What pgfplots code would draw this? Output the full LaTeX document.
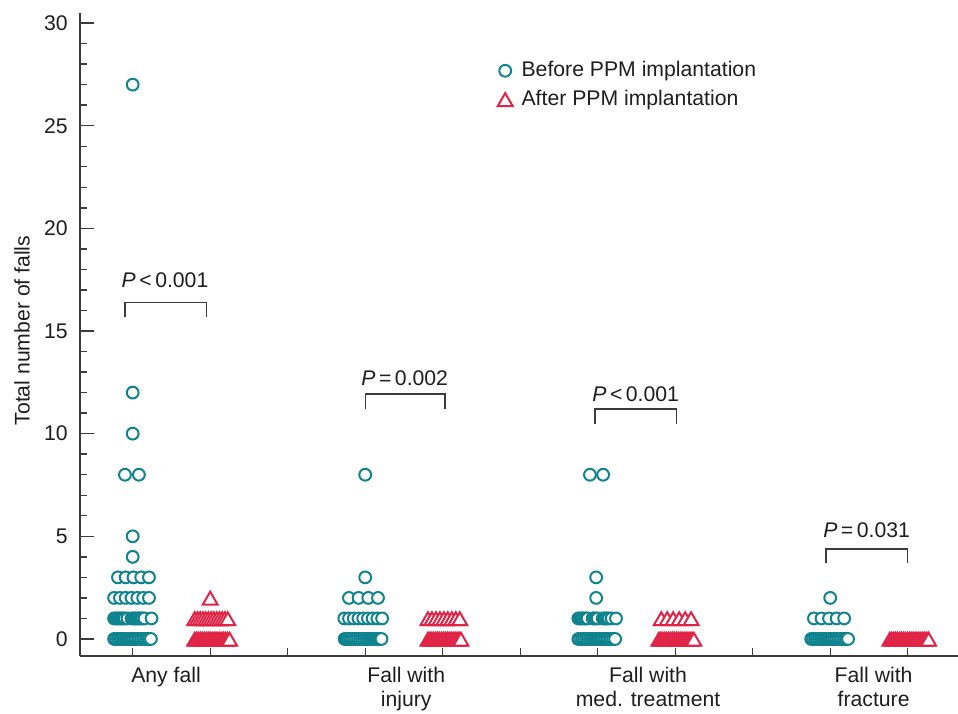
\documentclass[border=0pt]{standalone}
\usepackage{fontspec}
\setmainfont{Liberation Sans}
\usepackage{pgfplots}
\pgfplotsset{compat=1.18}
\definecolor{tealc}{RGB}{16,132,142}
\definecolor{redc}{RGB}{225,36,70}
\definecolor{axgray}{RGB}{60,60,60}
\definecolor{txt}{RGB}{30,30,30}
\begin{document}
\fontsize{10.6}{12.4}\selectfont
\begin{tikzpicture}
\useasboundingbox (-40pt,-28.5pt) rectangle (439pt,328pt);
\begin{axis}[
  scale only axis, width=439pt, height=321.5pt,
  xmin=0.32, xmax=11.649, ymin=-0.83, ymax=30.49,
  clip=false,
  axis x line*=bottom, axis y line*=left,
  axis line style={axgray, line width=0.7pt, -},
  tick align=inside,
  xtick={1,2,3,4,5,6,7,8,9,10,11}, xticklabels={},
  ytick={0,5,10,15,20,25,30}, minor y tick num=4,
  major tick length=7pt, minor tick length=3.5pt,
  tick style={axgray, line width=0.7pt},
  xtick style={/pgfplots/major tick length=4pt},
  extra x ticks={1.43,4.53,7.65,10.56},
  extra x tick labels={Any fall, Fall with\\injury, Fall with\\med. treatment, Fall with\\fracture},
  extra x tick style={major tick length=0pt, tick style={draw=none}},
  xticklabel style={align=center, text=txt, font=\fontsize{10.6}{12}\selectfont, yshift=-2pt},
  yticklabel style={text=txt, xshift=-2.4pt},
  /pgf/number format/assume math mode=true,
  every axis y label/.style={at={(axis description cs:-0.0661,0.5062)}, rotate=90, anchor=center},
  ylabel={Total number of falls},
  ylabel style={text=txt},
  legend style={at={(axis cs:5.68,26.98)}, anchor=west, draw=none, fill=none, inner sep=0pt,
    nodes={inner sep=1.5pt, text=txt}, row sep=2.0pt},
  legend cell align=left,
  legend image code/.code={\draw[#1] plot coordinates {(0pt,0pt)}; \path (-4.5pt,0pt) (6.5pt,0pt);},
]
% Before PPM implantation
\addplot[only marks, mark=*, mark size=2.95pt, mark options={draw=tealc, fill=white, line width=1pt}] coordinates {
(0.760,0) (0.785,0) (0.810,0) (0.835,0) (0.860,0) (0.885,0) (0.910,0) (0.935,0) (0.960,0) (0.985,0)
(1.010,0) (1.035,0) (1.060,0) (1.085,0) (1.110,0) (1.135,0) (1.160,0) (1.185,0) (1.210,0) (1.235,0)
(0.76,1) (0.78,1) (0.80,1) (0.82,1) (0.84,1) (0.86,1) (0.88,1) (0.90,1) (0.933,1) (0.985,1)
(1.005,1) (1.025,1) (1.045,1) (1.065,1) (1.085,1) (1.105,1) (1.125,1) (1.152,1) (1.243,1)
(0.76,2) (0.835,2) (0.91,2) (0.985,2) (1.06,2) (1.135,2) (1.21,2)
(0.81,3) (0.91,3) (1.01,3) (1.11,3) (1.21,3)
(1,4) (1,5) (0.90,8) (1.08,8) (1,10) (1,12) (1,27)
(3.735,0) (3.760,0) (3.785,0) (3.810,0) (3.835,0) (3.860,0) (3.885,0) (3.910,0) (3.935,0) (3.960,0)
(3.985,0) (4.010,0) (4.035,0) (4.060,0) (4.085,0) (4.110,0) (4.135,0) (4.160,0) (4.185,0) (4.210,0)
(3.73,1) (3.791,1) (3.852,1) (3.913,1) (3.974,1) (4.035,1) (4.096,1) (4.157,1) (4.218,1)
(3.79,2) (3.915,2) (4.04,2) (4.165,2)
(4,3) (4,8)
(6.750,0) (6.775,0) (6.800,0) (6.825,0) (6.850,0) (6.875,0) (6.900,0) (6.925,0) (6.950,0) (6.975,0)
(7.000,0) (7.025,0) (7.050,0) (7.075,0) (7.100,0) (7.125,0) (7.150,0) (7.175,0) (7.200,0) (7.225,0)
(6.75,1) (6.77,1) (6.79,1) (6.81,1) (6.83,1) (6.85,1) (6.87,1) (6.935,1) (6.955,1) (6.975,1)
(7.0,1) (7.065,1) (7.085,1) (7.105,1) (7.125,1) (7.145,1) (7.18,1) (7.236,1)
(6.98,2) (6.98,3) (6.90,8) (7.07,8)
(9.755,0) (9.780,0) (9.805,0) (9.830,0) (9.855,0) (9.880,0) (9.905,0) (9.930,0) (9.955,0) (9.980,0)
(10.005,0) (10.030,0) (10.055,0) (10.080,0) (10.105,0) (10.130,0) (10.155,0) (10.180,0) (10.205,0) (10.230,0)
(9.79,1) (9.888,1) (9.985,1) (10.083,1) (10.18,1)
(10,2)
};
\addlegendentry{Before PPM implantation}
% After PPM implantation
\addplot[only marks, mark=triangle*, mark size=4.3pt, mark options={draw=redc, fill=white, line width=1pt, yshift=-1.2pt}] coordinates {
(1.800,0) (1.825,0) (1.850,0) (1.875,0) (1.900,0) (1.925,0) (1.950,0) (1.975,0) (2.000,0) (2.025,0)
(2.050,0) (2.075,0) (2.100,0) (2.125,0) (2.150,0) (2.175,0) (2.200,0) (2.225,0) (2.250,0)
(1.80,1) (1.835,1) (1.871,1) (1.906,1) (1.942,1) (1.977,1) (2.013,1) (2.048,1) (2.084,1) (2.119,1)
(2.155,1) (2.19,1) (2.226,1)
(2,2)
(4.810,0) (4.835,0) (4.860,0) (4.885,0) (4.910,0) (4.935,0) (4.960,0) (4.985,0) (5.010,0) (5.035,0)
(5.060,0) (5.085,0) (5.110,0) (5.135,0) (5.160,0) (5.185,0) (5.210,0) (5.235,0)
(4.81,1) (4.861,1) (4.913,1) (4.964,1) (5.015,1) (5.066,1) (5.118,1) (5.169,1) (5.22,1)
(7.790,0) (7.815,0) (7.840,0) (7.865,0) (7.890,0) (7.915,0) (7.940,0) (7.965,0) (7.990,0) (8.015,0)
(8.040,0) (8.065,0) (8.090,0) (8.115,0) (8.140,0) (8.165,0) (8.190,0) (8.215,0) (8.240,0)
(7.82,1) (7.897,1) (7.974,1) (8.051,1) (8.128,1) (8.205,1)
(10.770,0) (10.795,0) (10.820,0) (10.845,0) (10.870,0) (10.895,0) (10.920,0) (10.945,0) (10.970,0) (10.995,0)
(11.020,0) (11.045,0) (11.070,0) (11.095,0) (11.120,0) (11.145,0) (11.170,0) (11.195,0) (11.220,0) (11.245,0) (11.270,0)
};
\addlegendentry{After PPM implantation}
% significance brackets
\addplot[axgray, line width=0.7pt, no marks, forget plot] coordinates {(0.90,15.70) (0.90,16.38) (1.955,16.38) (1.955,15.70)};
\addplot[axgray, line width=0.7pt, no marks, forget plot] coordinates {(4.0,11.2) (4.0,11.93) (5.03,11.93) (5.03,11.2)};
\addplot[axgray, line width=0.7pt, no marks, forget plot] coordinates {(6.965,10.47) (6.965,11.2) (8.02,11.2) (8.02,10.47)};
\addplot[axgray, line width=0.7pt, no marks, forget plot] coordinates {(9.945,3.70) (9.945,4.38) (11.0,4.38) (11.0,3.70)};
\node[text=txt] at (axis cs:1.417,17.48) {{\itshape P}\,<\,0.001};
\node[text=txt] at (axis cs:4.51,12.71) {{\itshape P}\,=\,0.002};
\node[text=txt] at (axis cs:7.49,11.93) {{\itshape P}\,<\,0.001};
\node[text=txt] at (axis cs:10.47,5.31) {{\itshape P}\,=\,0.031};
\end{axis}
\end{tikzpicture}
\end{document}
